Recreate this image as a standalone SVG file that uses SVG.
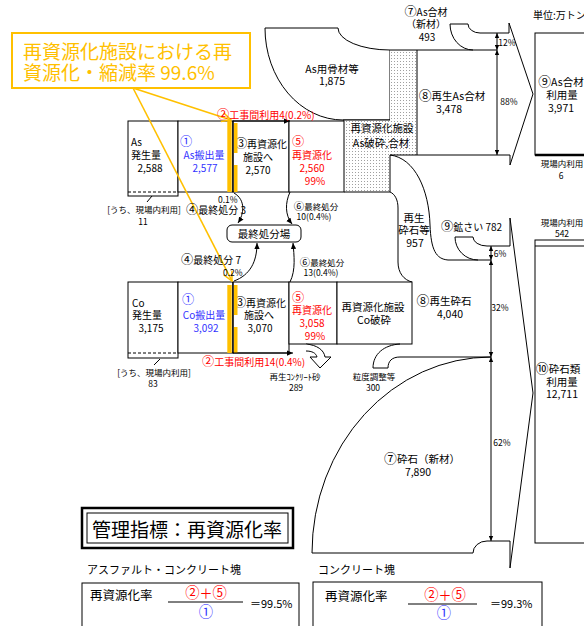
<svg xmlns="http://www.w3.org/2000/svg" width="584" height="626" viewBox="0 0 584 626">
<defs>
<style>
.t{font-family:"Noto Sans CJK JP","Noto Sans",sans-serif;font-size:10px;fill:#000}
.L{font-size:10.5px}
.m{text-anchor:middle}
.s{font-size:8.5px}
.c{font-size:1.22em}
.cf{font-size:1.1em}
.r{fill:#ff0000}
.b{fill:#3333ff}
.bx{fill:#fff;stroke:#000;stroke-width:1}
.ln{fill:none;stroke:#000;stroke-width:1}
.wf{fill:#fff;stroke:#000;stroke-width:1}
.dim{fill:none;stroke:#000;stroke-width:1;marker-start:url(#da);marker-end:url(#da)}
.or{fill:none;stroke:#ffc000;stroke-width:1.6;marker-end:url(#oa)}
.ob{fill:#ffc000}
.arr{fill:none;stroke:#000;stroke-width:1;marker-end:url(#ah)}
</style>
<pattern id="dots" width="3" height="3" patternUnits="userSpaceOnUse"><rect width="3" height="3" fill="#fff"/><rect x="1" y="1" width="1" height="1" fill="#a0a0a0"/></pattern>
<marker id="ah" viewBox="0 0 8 8" refX="8" refY="4" markerWidth="6" markerHeight="6" markerUnits="userSpaceOnUse" orient="auto"><path d="M0,0.5 L8,4 L0,7.5 Z" fill="#000"/></marker>
<marker id="da" viewBox="0 0 8 8" refX="8" refY="4" markerWidth="5" markerHeight="5" markerUnits="userSpaceOnUse" orient="auto-start-reverse"><path d="M0,0.5 L8,4 L0,7.5 Z" fill="#000"/></marker>
<marker id="oa" viewBox="0 0 12 12" refX="11" refY="6" markerWidth="11" markerHeight="11" markerUnits="userSpaceOnUse" orient="auto"><path d="M1,1 L11,6 L1,11" fill="none" stroke="#ffc000" stroke-width="1.6"/></marker>
</defs>
<rect width="584" height="626" fill="#fff"/>

<g id="unit"><text class="t" x="533" y="19">単位:万トン</text></g>

<g id="as-aggregate">
<path class="wf" d="M265,28 L338,28 A52,22 0 0 0 390,50 L390,120 L343,120 A78,92 0 0 1 265,28 Z"/>
<text class="t L m" x="332" y="73">As用骨材等</text>
<text class="t L m" x="332" y="85">1,875</text>
</g>

<g id="as-facility">
<path d="M390,50 L417,50 L417,155 L390,155 L390,192 L344,192 L344,120 L390,120 Z" fill="url(#dots)"/>
<path class="ln" d="M417,50 L417,155 M344,192 L390,192 M343,120 L390,120"/>
<text class="t L m" x="382" y="132">再資源化施設</text>
<text class="t L m" x="381" y="147">As破砕,合材</text>
</g>

<g id="as-new-material">
<path class="ln" d="M450,24 L468,24 A12,9 0 0 0 480,33 L509,33"/>
<path class="ln" d="M450,24 A23,26 0 0 0 473,50"/>
<text class="t m" x="426" y="16"><tspan class="c">⑦</tspan>As合材</text>
<text class="t m" x="426" y="28">（新材）</text>
<text class="t m" x="427" y="41">493</text>
</g>

<g id="as-recycled">
<path class="ln" d="M390,50 L497,50 M390,155 L510,155"/>
<text class="t L m" x="452" y="100"><tspan class="c">⑧</tspan>再生As合材</text>
<text class="t L m" x="449" y="113">3,478</text>
</g>

<g id="as-arrow">
<path class="ln" d="M509,33 L509,23 L533,94 L510,165 L510,155"/>
</g>

<g id="as-use">
<rect class="bx" x="535" y="33" width="60" height="122"/>
<line x1="535" y1="155" x2="584" y2="155" stroke="#000" stroke-width="2.5"/>
<text class="t L m" x="561" y="86"><tspan class="c">⑨</tspan>As合材</text>
<text class="t L m" x="562" y="99">利用量</text>
<text class="t L m" x="561" y="112">3,971</text>
<text class="t s m" x="562" y="167">現場内利用</text>
<text class="t s m" x="561" y="179">6</text>
</g>

<g id="as-generated">
<rect class="bx" x="128" y="121" width="50" height="75"/>
<line x1="128" y1="192" x2="178" y2="192" stroke="#000" stroke-dasharray="3,2"/>
<text class="t" x="131" y="146">As</text>
<text class="t" x="131" y="159">発生量</text>
<text class="t m" x="150" y="172">2,588</text>
<text class="t s m" x="144" y="213">[うち、現場内利用]</text>
<text class="t s m" x="143" y="225">11</text>
</g>

<g id="as-out">
<rect class="bx" x="178" y="121" width="55" height="71"/>
<text class="t b" x="180" y="146"><tspan class="c">①</tspan></text>
<text class="t b m" x="204" y="159">As搬出量</text>
<text class="t b m" x="205" y="172">2,577</text>
</g>

<g id="as-to-facility">
<rect class="bx" x="233" y="121" width="56" height="71"/>
<text class="t m" x="261" y="148"><tspan class="c">③</tspan>再資源化</text>
<text class="t m" x="258" y="161">施設へ</text>
<text class="t m" x="258" y="174">2,570</text>
</g>

<g id="as-recycling">
<rect class="bx" x="289" y="121" width="55" height="71"/>
<text class="t r" x="292" y="146"><tspan class="c">⑤</tspan></text>
<text class="t r" x="292" y="159">再資源化</text>
<text class="t r m" x="312" y="172">2,560</text>
<text class="t r m" x="315" y="185">99%</text>
</g>

<g id="rec-crushed">
<path class="ln" d="M390,155 L390,192 C395,194 398,200 398,208 L398,262 C398,273 404,280 412,282"/>
<path class="ln" d="M390,155 C415,158 429,190 430,225 C431,250 436,259 448,260 L491,260"/>
<text class="t L m" x="414" y="222">再生</text>
<text class="t L m" x="414" y="234">砕石等</text>
<text class="t L m" x="415" y="247">957</text>
</g>

<g id="slag">
<path class="ln" d="M455,237 L473,237 A14,9 0 0 0 487,246 L510,246"/>
<path class="ln" d="M455,237 A23,23 0 0 0 478,260"/>
<text class="t" x="441" y="231"><tspan class="c">⑨</tspan>鉱さい 782</text>
</g>

<g id="final-disposal">
<rect class="bx" x="227" y="225" width="74" height="17" rx="5"/>
<text class="t L m" x="264" y="238">最終処分場</text>
</g>

<g id="co-generated">
<rect class="bx" x="128" y="282" width="50" height="76"/>
<line x1="128" y1="353" x2="178" y2="353" stroke="#000" stroke-dasharray="3,2"/>
<text class="t" x="132" y="307">Co</text>
<text class="t" x="132" y="319">発生量</text>
<text class="t m" x="151" y="332">3,175</text>
<text class="t s m" x="154" y="376">[うち、現場内利用]</text>
<text class="t s m" x="153" y="387">83</text>
</g>

<g id="co-out">
<rect class="bx" x="178" y="282" width="55" height="71"/>
<text class="t b" x="182" y="304"><tspan class="c">①</tspan></text>
<text class="t b m" x="204" y="319">Co搬出量</text>
<text class="t b m" x="206" y="332">3,092</text>
</g>

<g id="co-to-facility">
<rect class="bx" x="233" y="282" width="56" height="71"/>
<text class="t m" x="260" y="307"><tspan class="c">③</tspan>再資源化</text>
<text class="t m" x="259" y="319">施設へ</text>
<text class="t m" x="260" y="332">3,070</text>
</g>

<g id="co-recycling">
<rect class="bx" x="289" y="282" width="48" height="62"/>
<text class="t r" x="292" y="302"><tspan class="c">⑤</tspan></text>
<text class="t r" x="292" y="314">再資源化</text>
<text class="t r m" x="312" y="327">3,058</text>
<text class="t r m" x="315" y="340">99%</text>
</g>

<g id="co-facility">
<rect class="bx" x="337" y="282" width="75" height="62"/>
<text class="t L m" x="373" y="311">再資源化施設</text>
<text class="t L m" x="374" y="324">Co破砕</text>
</g>

<g id="co-recycled">
<text class="t L m" x="444" y="305"><tspan class="c">⑧</tspan>再生砕石</text>
<text class="t L m" x="450" y="318">4,040</text>
</g>

<g id="grading">
<path class="ln" d="M373,368 C373,354 384,345 400,344 M388,368 C388,361 392,357 400,357 L491,357 M373,368 L388,368"/>
<text class="t s m" x="374" y="380">粒度調整等</text>
<text class="t s m" x="373" y="391">300</text>
</g>

<g id="crushed-new">
<path class="ln" d="M491,357 A179,196 0 0 0 312,553 L473,553 A14,12 0 0 1 487,541 L510,541"/>
<text class="t L m" x="422" y="463"><tspan class="c">⑦</tspan>砕石（新材）</text>
<text class="t L m" x="418" y="476">7,890</text>
</g>

<g id="crushed-arrow">
<path class="ln" d="M510,246 L510,218 L533,393 L510,568 L510,541"/>
</g>

<g id="crushed-use">
<text class="t s m" x="562" y="226">現場内利用</text>
<text class="t s m" x="562" y="237">542</text>
<rect class="bx" x="535" y="240" width="60" height="303"/>
<line x1="535" y1="246" x2="584" y2="246" stroke="#000"/>
<text class="t L m" x="558" y="373"><tspan class="c">⑩</tspan>砕石類</text>
<text class="t L m" x="562" y="386">利用量</text>
<text class="t L m" x="562" y="398">12,711</text>
</g>

<g id="orange-bars">
<rect class="ob" x="227.3" y="121" width="4.4" height="71"/>
<rect class="ob" x="234" y="123" width="3.5" height="30"/>
<rect class="ob" x="234" y="165" width="3.5" height="27"/>
<rect class="ob" x="227.3" y="285" width="4.4" height="68"/>
<rect class="ob" x="234" y="285" width="3.5" height="30"/>
<rect class="ob" x="234" y="327" width="3.5" height="26"/>
<line x1="233" y1="121" x2="233" y2="192" stroke="#000"/>
<line x1="233" y1="282" x2="233" y2="353" stroke="#000"/>
</g>

<g id="callout">
<rect x="12" y="33" width="238" height="55" fill="#fff" stroke="#ffc000" stroke-width="2"/>
<text class="t" x="23" y="59" style="font-size:19px;fill:#ffc000">再資源化施設における再</text>
<text class="t" x="23" y="80" style="font-size:19px;fill:#ffc000">資源化・縮減率 99.6%</text>
</g>

<g id="connectors">
<line class="arr" x1="233" y1="121" x2="290" y2="121"/>
<line class="arr" x1="233" y1="353" x2="293" y2="353"/>
<path class="arr" d="M234,193 C246,200 244,214 238,223"/>
<path class="arr" d="M290,192 C285,203 285,215 292,224"/>
<path class="arr" d="M234,281 C250,275 257,262 257,243"/>
<path class="arr" d="M290,282 C296,270 294,255 293,243"/>
<path class="wf" d="M306,344 C317,345 324,350 325,357 L331,357 L320,368 L310,357 L317,357 C316,353 312,351 306,351"/>
<line class="ln" x1="152" y1="196" x2="147" y2="202"/>
<line class="ln" x1="160" y1="359" x2="154" y2="365"/>
<line class="dim" x1="497" y1="33" x2="497" y2="50"/>
<line class="dim" x1="497" y1="50" x2="497" y2="155"/>
<line class="dim" x1="491" y1="246" x2="491" y2="260"/>
<line class="dim" x1="491" y1="260" x2="491" y2="357"/>
<line class="dim" x1="491" y1="357" x2="491" y2="541"/>
<path class="or" d="M133,88 L231,120"/>
<path class="or" d="M133,88 L232,281"/>
</g>

<g id="flow-labels">
<text class="t r" x="217" y="119"><tspan class="c">②</tspan>工事間利用4(0.2%)</text>
<text class="t s" x="218" y="203">0.1%</text>
<text class="t" x="186" y="214"><tspan class="c">④</tspan>最終処分 3</text>
<text class="t s m" x="316" y="210"><tspan class="c">⑥</tspan>最終処分</text>
<text class="t s m" x="314" y="220">10(0.4%)</text>
<text class="t" x="181" y="264"><tspan class="c">④</tspan>最終処分 7</text>
<text class="t s" x="223" y="276">0.2%</text>
<text class="t s m" x="322" y="266"><tspan class="c">⑥</tspan>最終処分</text>
<text class="t s m" x="321" y="276">13(0.4%)</text>
<text class="t r" x="202" y="366"><tspan class="c">②</tspan>工事間利用14(0.4%)</text>
<text class="t s m" x="295" y="380">再生ｺﾝｸﾘｰﾄ砂</text>
<text class="t s m" x="296" y="391">289</text>
<text class="t s m" x="507" y="46">12%</text>
<text class="t s m" x="509" y="105">88%</text>
<text class="t s m" x="500" y="257">6%</text>
<text class="t s m" x="500" y="311">32%</text>
<text class="t s m" x="502" y="446">62%</text>
</g>

<g id="index-title">
<rect x="82" y="508" width="211" height="40" fill="#fff" stroke="#000" stroke-width="2.5"/>
<rect x="87" y="513" width="201" height="30" fill="none" stroke="#000" stroke-width="1"/>
<text class="t" x="92" y="537" style="font-size:19px">管理指標：再資源化率</text>
</g>

<g id="formula-asco">
<text class="t" x="87" y="574" style="font-size:11px">アスファルト・コンクリート塊</text>
<rect class="bx" x="82" y="583" width="217" height="60"/>
<text class="t" x="90" y="600" style="font-size:12.5px">再資源化率</text>
<line x1="168" y1="602" x2="243" y2="602" stroke="#000"/>
<text class="t r m" x="206" y="598" style="font-size:13px"><tspan class="cf">②</tspan>＋<tspan class="cf">⑤</tspan></text>
<text class="t b m" x="206" y="617" style="font-size:13px"><tspan class="cf">①</tspan></text>
<text class="t" x="250" y="608" style="font-size:11px">＝99.5%</text>
</g>

<g id="formula-co">
<text class="t" x="318" y="574" style="font-size:11px">コンクリート塊</text>
<rect class="bx" x="313" y="582" width="229" height="60"/>
<text class="t" x="325" y="601" style="font-size:12.5px">再資源化率</text>
<line x1="408" y1="604" x2="477" y2="604" stroke="#000"/>
<text class="t r m" x="445" y="600" style="font-size:13px"><tspan class="cf">②</tspan>＋<tspan class="cf">⑤</tspan></text>
<text class="t b m" x="444" y="618" style="font-size:13px"><tspan class="cf">①</tspan></text>
<text class="t" x="490" y="608" style="font-size:11px">＝99.3%</text>
</g>
</svg>
